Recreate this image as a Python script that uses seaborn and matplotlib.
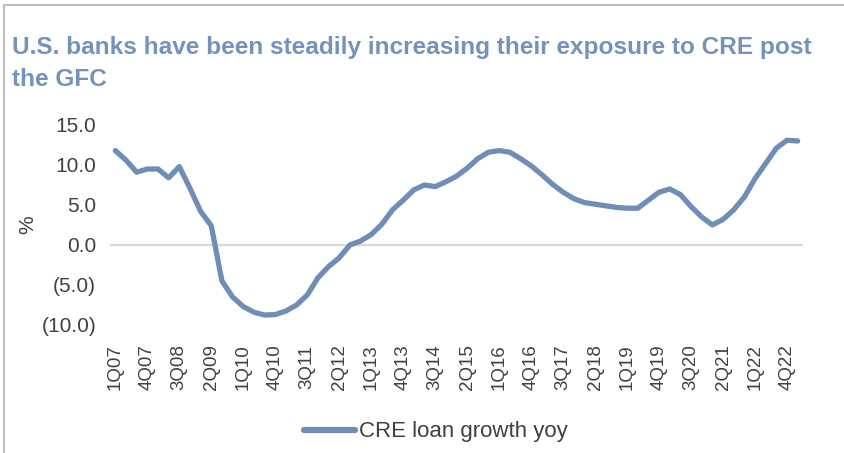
import matplotlib
matplotlib.use("Agg")
import matplotlib.pyplot as plt
from matplotlib.lines import Line2D
import seaborn as sns
import pandas as pd

# Quarterly categories, 1Q07 through 1Q23
quarters = [f"{q}Q{y:02d}" for y in range(7, 24) for q in range(1, 5)][:65]

# Year-over-year growth of commercial real estate loans at U.S. banks (%)
cre_growth = [
    11.8, 10.6, 9.1, 9.5, 9.5, 8.4, 9.8, 7.1, 4.2, 2.4,
    -4.5, -6.5, -7.7, -8.4, -8.75, -8.7, -8.25, -7.5, -6.25, -4.1,
    -2.7, -1.6, 0.0, 0.5, 1.3, 2.6, 4.4, 5.6, 6.9, 7.5,
    7.3, 7.9, 8.6, 9.6, 10.8, 11.6, 11.8, 11.6, 10.8, 9.9,
    8.8, 7.6, 6.6, 5.8, 5.3, 5.1, 4.9, 4.7, 4.6, 4.6,
    5.6, 6.6, 7.0, 6.3, 4.8, 3.5, 2.5, 3.2, 4.4, 6.0,
    8.3, 10.2, 12.1, 13.1, 13.0,
]

series_name = "CRE loan growth yoy"
title = "U.S. banks have been steadily increasing their exposure to CRE post\nthe GFC"
y_ticks = [15, 10, 5, 0, -5, -10]
y_tick_labels = ["15.0", "10.0", "5.0", "0.0", "(5.0)", "(10.0)"]

line_color = "#6F8EB6"
title_color = "#7592BC"
text_color = "#404040"

sns.set_theme(style="white")
plt.rcParams["font.family"] = ["Liberation Sans", "DejaVu Sans"]

df = pd.DataFrame({"idx": range(len(quarters)), "quarter": quarters, "growth": cre_growth})

fig = plt.figure(figsize=(8.44, 4.53), dpi=100)
ax = fig.add_axes([110 / 844, 1 - 325 / 453, (803 - 110) / 844, 200 / 453])

ax.axhline(0, color="#D9D9D9", lw=1.6, zorder=1)
sns.lineplot(data=df, x="idx", y="growth", ax=ax, color=line_color, lw=3.8,
             solid_capstyle="round", solid_joinstyle="round", zorder=3,
             label=series_name, legend=False)

ax.set_xlim(-0.5, len(quarters) - 0.5)
ax.set_ylim(-10, 15)
for s in ax.spines.values():
    s.set_visible(False)

ax.set_yticks(y_ticks)
ax.set_yticklabels(y_tick_labels, fontsize=15, color=text_color)
tick_idx = list(range(0, len(quarters) - 1, 3))
ax.set_xticks(tick_idx)
ax.set_xticklabels([quarters[i] for i in tick_idx], rotation=90, fontsize=13.5,
                   color=text_color, va="top", ha="center")
ax.tick_params(axis="x", length=0, pad=14)
ax.tick_params(axis="y", length=0, pad=10)
ax.set_xlabel("")
ax.set_ylabel("%", fontsize=15, color=text_color)
ax.yaxis.set_label_coords(-0.105, 0.5)

fig.text(12 / 844, 1 - 36 / 453, title, ha="left", va="top", fontsize=17.6,
         fontweight="bold", color=title_color, linespacing=1.5)

handle = Line2D([], [], color=line_color, lw=4.5, solid_capstyle="round")
fig.legend([handle], [series_name], loc="center", bbox_to_anchor=(436 / 844, 1 - 432 / 453),
           frameon=False, handlelength=2.3, handletextpad=0.2,
           prop={"size": 16}, labelcolor=text_color)

# light frame along the top and left edges
fig.add_artist(Line2D([4 / 844, 4 / 844], [0, 1 - 5 / 453], color="#BFBFBF", lw=1.5,
                      transform=fig.transFigure))
fig.add_artist(Line2D([4 / 844, 1], [1 - 5 / 453, 1 - 5 / 453], color="#BFBFBF", lw=1.5,
                      transform=fig.transFigure))

fig.savefig("out.png", dpi=100)
